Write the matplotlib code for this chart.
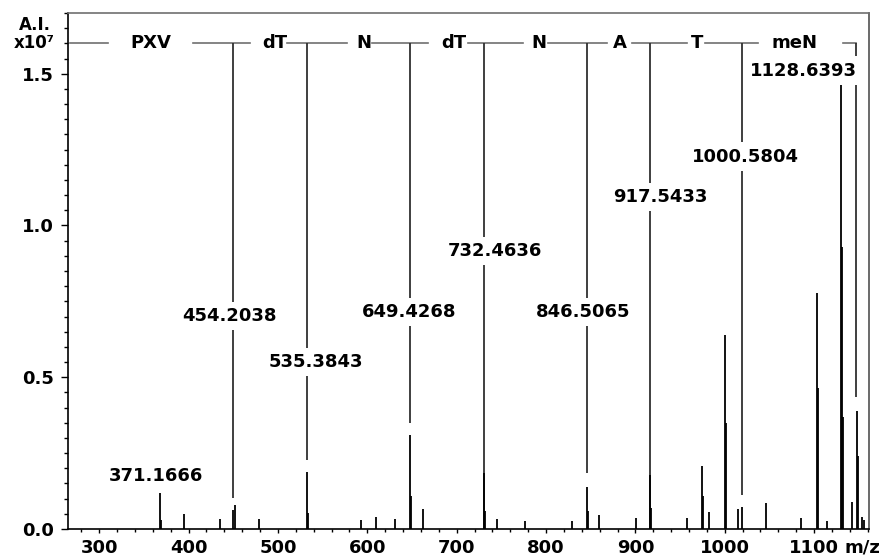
import matplotlib
matplotlib.use("Agg")
from matplotlib import pyplot as plt
from matplotlib.ticker import MultipleLocator

# peak list (m/z, intensity x1e7)
peak_mz = [367.9, 369.0, 394.8, 435.1, 449.6, 451.9, 478.7,
           532.5, 533.6, 592.9, 609.7, 630.9, 647.7, 648.8, 662.3,
           730.6, 731.7, 745.1, 776.4, 829.0, 845.8, 846.9, 859.3,
           900.7, 916.3, 917.4, 957.8, 974.5, 975.6, 982.4,
           1000.3, 1001.4, 1014.8, 1019.3, 1046.2, 1085.3,
           1103.2, 1104.3, 1114.4, 1130.1, 1131.2, 1132.3,
           1142.4, 1148.0, 1149.1, 1153.6, 1156.0]
peak_int = [0.119, 0.03, 0.049, 0.033, 0.063, 0.079, 0.033,
            0.188, 0.053, 0.03, 0.04, 0.033, 0.31, 0.109, 0.066,
            0.185, 0.06, 0.033, 0.025, 0.027, 0.138, 0.06, 0.046,
            0.036, 0.178, 0.07, 0.036, 0.208, 0.109, 0.056,
            0.64, 0.35, 0.066, 0.072, 0.086, 0.036,
            0.778, 0.465, 0.026, 1.54, 0.93, 0.37,
            0.09, 0.39, 0.24, 0.04, 0.03]

# sequence ladder
ladder_y = 1.601
ladder_segments = [(267.2, 309.7), (404.9, 468.7), (510.1, 577.3), (605.2, 667.9),
                   (712.6, 774.1), (802.2, 868.2), (896.2, 957.8), (977.9, 1037.2),
                   (1132.3, 1146.8)]
residues = ["PXV", "dT", "N", "dT", "N", "A", "T", "meN"]
residue_mz = [357.3, 496.1, 595.7, 697.0, 792.1, 882.2, 969.5, 1078.0]

# drop lines from the ladder: x position and lower end
drop_mz = [449.6, 532.5, 647.7, 730.6, 845.8, 916.3, 1019.3, 1146.8]
drop_end = [0.102, 0.227, 0.35, 0.0, 0.185, 0.0, 0.112, 0.435]

# peak labels
label_text = ["371.1666", "454.2038", "535.3843", "649.4268", "732.4636",
              "846.5065", "917.5433", "1000.5804", "1128.6393"]
label_mz = [364.0, 445.2, 542.0, 647.2, 742.9, 841.9, 927.5, 1023.1, 1088.1]
label_y = [0.175, 0.702, 0.55, 0.715, 0.916, 0.715, 1.094, 1.226, 1.51]

fig = plt.figure(figsize=(8.83, 5.56), dpi=100)
ax = fig.add_axes([0.0770, 0.04856, 0.9071, 0.92806])

ax.vlines(peak_mz, 0, peak_int, color='black', lw=1.3, zorder=2)

for x0, x1 in ladder_segments:
    ax.plot([x0, x1], [ladder_y, ladder_y], color='#707070', lw=1.2, zorder=1)
ax.vlines(drop_mz, drop_end, ladder_y, color='#303030', lw=1.3, zorder=1)

for name, x in zip(residues, residue_mz):
    ax.text(x, ladder_y, name, ha='center', va='center', fontsize=13,
            fontweight='bold', zorder=3)

for t, x, y in zip(label_text, label_mz, label_y):
    ax.text(x, y, t, ha='center', va='center', fontsize=13, fontweight='bold',
            zorder=4, bbox=dict(boxstyle='square,pad=0.3', fc='white', ec='none'))

ax.set_xlim(265, 1161.4)
ax.set_ylim(0, 1.70)
ax.xaxis.set_major_locator(MultipleLocator(100))
ax.xaxis.set_minor_locator(MultipleLocator(20))
ax.yaxis.set_major_locator(MultipleLocator(0.5))
ax.yaxis.set_minor_locator(MultipleLocator(0.05))
ax.set_xticks(range(300, 1101, 100))
ax.set_yticks([0.0, 0.5, 1.0, 1.5])
ax.set_yticklabels(["0.0", "0.5", "1.0", "1.5"])
ax.tick_params(axis='y', which='major', length=5, width=1, pad=5, labelsize=13)
ax.tick_params(axis='y', which='minor', length=3, width=1)
ax.tick_params(axis='x', which='major', length=3, width=1, pad=4, labelsize=13)
ax.tick_params(axis='x', which='minor', length=2, width=1)
for lab in ax.get_xticklabels() + ax.get_yticklabels():
    lab.set_fontweight('bold')

ax.spines['left'].set_color('black')
ax.spines['bottom'].set_color('black')
ax.spines['top'].set_color('#707070')
ax.spines['right'].set_color('#505050')
for s in ax.spines.values():
    s.set_linewidth(1.2)

fig.text(35 / 883, 1 - 25 / 556, "A.I.", ha='center', va='center',
         fontsize=12, fontweight='bold')
fig.text(34 / 883, 1 - 43 / 556, "x10⁷", ha='center', va='center',
         fontsize=12, fontweight='bold')
fig.text(862 / 883, 1 - 548 / 556, "m/z", ha='center', va='center',
         fontsize=13, fontweight='bold')

fig.savefig("out.png", dpi=100)
